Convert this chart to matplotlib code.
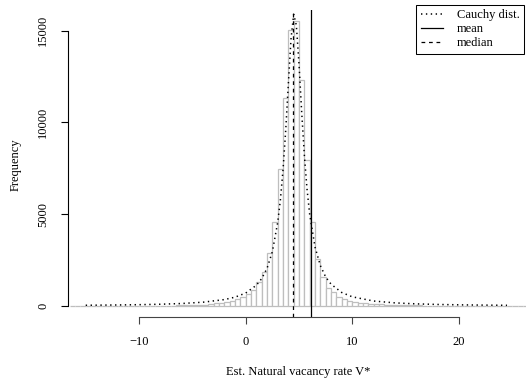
import numpy as np
import matplotlib
matplotlib.use('Agg')
import matplotlib.pyplot as plt

plt.rcParams['font.family'] = ['Liberation Serif', 'DejaVu Serif']
plt.rcParams['font.size'] = 9

# histogram counts, bins of width 0.5 starting at -16.5
bin_start = -16.5
bin_width = 0.5
counts = [2, 2, 3, 3, 3, 4, 4, 5, 5, 6, 7, 8, 9, 10, 12, 13, 15, 18, 21, 25,
          30, 36, 43, 52, 63, 78, 97, 145, 180, 235, 290, 380, 510, 655, 870,
          1330, 1870, 2870, 4570, 7450, 11350, 15060, 15530, 12330, 7930,
          4570, 2560, 1565, 960, 745, 470, 365, 270, 220, 180, 150, 125, 105,
          90, 78, 66, 57, 49, 42, 36, 31, 27, 23, 20, 17, 15, 13, 11, 10, 9,
          8, 7, 6, 5, 5, 4, 4, 3, 3, 3, 2]

# fitted Cauchy curve
cauchy_x = [-15, -12, -10, -8, -6, -4, -2, -1, 0, 1, 1.5, 2, 2.5, 3, 3.25,
            3.5, 3.75, 4, 4.25, 4.5, 4.75, 5, 5.25, 5.5, 5.75, 6, 6.5, 7,
            7.5, 8, 9, 10, 12, 14, 16, 18, 20, 22, 24.5]
cauchy_y = [40, 56, 72, 96, 136, 207, 349, 481, 705, 1130, 1490, 2050, 2960,
            4550, 5770, 7420, 9560, 12110, 14560, 15890, 15290, 13160, 10550,
            8210, 6370, 4990, 3210, 2200, 1580, 1190, 737, 499, 271, 169, 116,
            84, 64, 50, 38]

mean_v = 6.12
median_v = 4.47

fig = plt.figure(figsize=(5.26, 3.81), dpi=100)
ax = fig.add_axes([68/526, 63.6/381, 458/526, 307.4/381])

lefts = bin_start + bin_width*np.arange(len(counts))
ax.bar(lefts, counts, width=bin_width, align='edge', color='white',
       edgecolor='#bebebe', linewidth=0.9)

ax.plot(cauchy_x, cauchy_y, color='black', lw=1.1, dashes=(0.9, 2.3),
        label='Cauchy dist.')
ax.axvline(mean_v, color='black', lw=0.9, label='mean')
ax.axvline(median_v, color='black', lw=0.9, dashes=(3, 3), label='median')

ax.set_xlim(-16.66, 26.28)
ax.set_ylim(-621, 16125)

for s in ['top', 'right']:
    ax.spines[s].set_visible(False)
ax.spines['left'].set_bounds(0, 15000)
ax.spines['bottom'].set_bounds(-10, 20)
ax.spines['left'].set_linewidth(0.8)
ax.spines['bottom'].set_linewidth(0.8)
ax.spines['bottom'].set_color('#444444')

ax.set_xticks([-10, 0, 10, 20])
ax.set_xticklabels(['\u221210', '0', '10', '20'])
ax.set_yticks([0, 5000, 10000, 15000])
ax.set_yticklabels(['0', '5000', '10000', '15000'], rotation=90, va='center')
ax.tick_params(axis='both', direction='out', length=5, width=0.8, pad=8.5)
ax.tick_params(axis='x', color='#444444')

fig.text(16/526, 1 - 165/381, 'Frequency', rotation=90, ha='center', va='center')
fig.text(298/526, 1 - 372/381, 'Est. Natural vacancy rate V*', ha='center', va='center')

leg = ax.legend(loc='upper right', bbox_to_anchor=(524/526, 1 - 5/381),
                bbox_transform=fig.transFigure, fancybox=False, framealpha=1,
                edgecolor='black', handlelength=1.8, handletextpad=1.1,
                labelspacing=0.15, borderpad=0.35, borderaxespad=0)
leg.get_frame().set_linewidth(0.75)

fig.savefig('out.png', dpi=100)
